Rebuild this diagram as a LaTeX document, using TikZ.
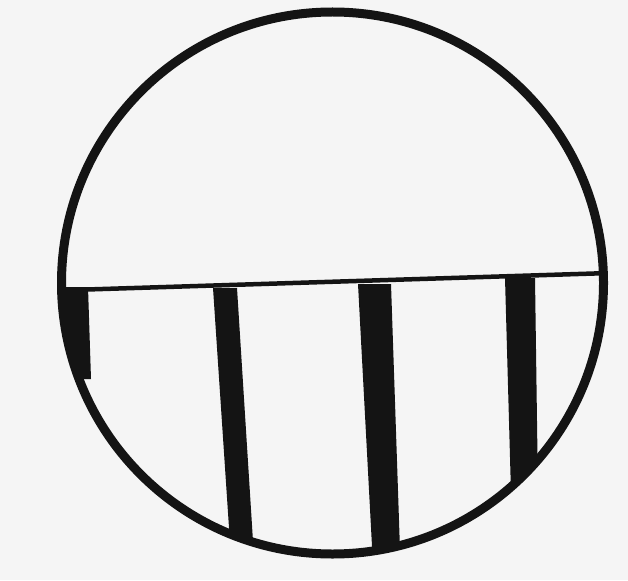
\documentclass[tikz,border=0pt]{standalone}
\begin{document}
\begin{tikzpicture}[x=1pt,y=-1pt,
  ink/.style={fill=black!92},
  rim/.style={draw=black!92,line width=9pt}]
\fill[black!4] (0,0) rectangle (628,580);
\useasboundingbox (0,0) rectangle (628,580);
\coordinate (c) at (332.5,283);
\begin{scope}
  \clip (c) circle[radius=271];
  \draw[black!92,line width=4.5pt] (55,290.5) -- (610,273);
  \fill[ink] (50,287) -- (88,287) -- (91,379) -- (50,379) -- cycle;
  \fill[ink] (213,288) -- (237,288) -- (254.5,565) -- (231.5,565) -- cycle;
  \fill[ink] (358,284) -- (391,284) -- (400.5,565) -- (373,565) -- cycle;
  \fill[ink] (505,278) -- (535,278) -- (539,565) -- (513,565) -- cycle;
\end{scope}
\draw[rim] (c) circle[radius=271];
\end{tikzpicture}
\end{document}
